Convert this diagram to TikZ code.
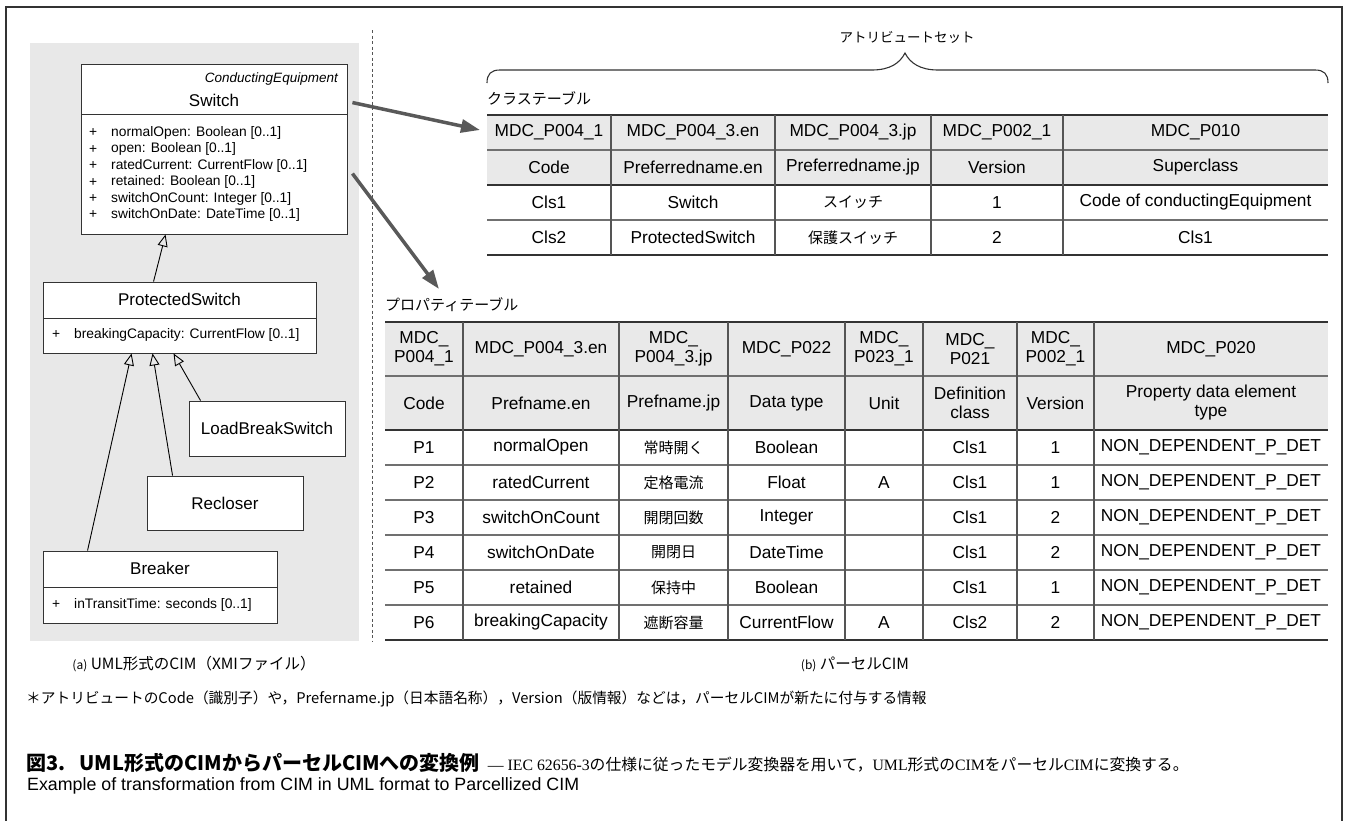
\documentclass[tikz,border=0pt]{standalone}
\usepackage{fontspec}
\setmainfont{Liberation Sans}
\newfontfamily\jp{Noto Sans CJK JP}
\newfontfamily\serifl{Liberation Serif}
\usetikzlibrary{arrows.meta,calc}
\definecolor{bggray}{HTML}{E8E8E8}
\definecolor{hdrgray}{HTML}{E9E9E9}
\definecolor{linedark}{HTML}{333333}
\definecolor{linemid}{HTML}{707070}
\definecolor{linev}{HTML}{555555}
\definecolor{arrowgray}{HTML}{595959}
\newcommand\jtxt[1]{{\jp\fontsize{15}{19}\selectfont #1}}
\begin{document}
\begin{tikzpicture}[x=1pt,y=-1pt,
  umlbox/.style={draw=linedark,line width=0.9pt,fill=white,inner sep=0pt},
  clsname/.style={font=\fontsize{17}{20}\selectfont,inner sep=0pt},
  attr/.style={font=\fontsize{13.8}{17}\selectfont,inner sep=0pt,anchor=west},
  inh/.style={draw=black,line width=0.9pt,-{Triangle[open,length=12pt,width=10pt]}},
  bigarrow/.style={draw=arrowgray,line width=3.5pt,-{Triangle[length=19pt,width=13pt]}},
  cell/.style={font=\fontsize{17.3}{19}\selectfont,inner sep=0pt,align=center},
  tlthick/.style={draw=linedark,line width=1.8pt},
  tlmid/.style={draw=linemid,line width=1.3pt},
  tlv/.style={draw=linev,line width=1.2pt},
  lbl/.style={font=\jp\fontsize{15}{18}\selectfont,inner sep=0pt,anchor=west}
]
\useasboundingbox (0,0) rectangle (1353,820);
% frame
\draw[linedark,line width=1.2pt] (6,822) -- (6,7) -- (1342,7) -- (1342,822);
% left panel background
\fill[bggray] (30,43) rectangle (359,641);
\draw[linev,line width=0.9pt,dash pattern=on 3pt off 2.5pt] (372,30) -- (372,641);

% ---- UML classes ----
\node[umlbox,minimum width=266pt,minimum height=170pt] (sw) at (214,149) {};
\draw[linedark,line width=0.9pt] (81,114) -- (347,114);
\node[font=\itshape\fontsize{13.5}{16}\selectfont,inner sep=0pt,anchor=east] (swst) at (338,79) {ConductingEquipment};
\node[clsname] (swn) at (214,100) {Switch};
\foreach \txt [count=\i] in {normalOpen: Boolean [0..1],open: Boolean [0..1],ratedCurrent: CurrentFlow [0..1],retained: Boolean [0..1],switchOnCount: Integer [0..1],switchOnDate: DateTime [0..1]}{
  \node[attr] (swp\i) at (89,{133+(\i-1)*16.4}) {+};
  \node[attr] (swa\i) at (111,{133+(\i-1)*16.4}) {\txt};
}

\node[umlbox,minimum width=273pt,minimum height=71pt] (ps) at (179.5,317.5) {};
\draw[linedark,line width=0.9pt] (43,318) -- (316,318);
\node[clsname] (psn) at (179.5,299) {ProtectedSwitch};
\node[attr] (psp) at (52,335) {+};
\node[attr] (psa) at (74,335) {breakingCapacity: CurrentFlow [0..1]};

\node[umlbox,minimum width=156pt,minimum height=55pt] (lbs) at (267,428.5) {};
\node[clsname] (lbsn) at (267,428.5) {LoadBreakSwitch};
\node[umlbox,minimum width=156pt,minimum height=54pt] (rc) at (225,503) {};
\node[clsname] (rcn) at (225,503) {Recloser};

\node[umlbox,minimum width=234pt,minimum height=72pt] (br) at (160,587) {};
\draw[linedark,line width=0.9pt] (43,587) -- (277,587);
\node[clsname] (brn) at (160,568) {Breaker};
\node[attr] (brp) at (52,605) {+};
\node[attr] (bra) at (74,605) {inTransitTime: seconds [0..1]};

% generalisations
\draw[inh] ($(ps.north west)+(111,0)$) -- ($(sw.south west)+(85,0)$);
\draw[inh] ($(br.north west)+(45,0)$) -- ($(ps.south west)+(89,0)$);
\draw[inh] ($(rc.north west)+(26,0)$) -- ($(ps.south west)+(110,0)$);
\draw[inh] ($(lbs.north west)+(12,0)$) -- ($(ps.south west)+(131,0)$);

% ---- attribute set brace ----
\node[font=\jp\fontsize{13.5}{16}\selectfont,inner sep=0pt] (attrset) at (907,37) {アトリビュートセット};
\draw[linedark,line width=1.1pt] (487,83) .. controls (487,74) and (491,70) .. (500,70) -- (872,70)
  .. controls (890,70) and (900,63) .. (905,53) .. controls (910,63) and (920,70) .. (938,70)
  -- (1315,70) .. controls (1324,70) and (1328,74) .. (1328,83);

% ---- class table ----
\node[lbl] (ctl) at (487,98) {クラステーブル};
\coordinate (ct) at (487,115);
\fill[hdrgray] (487,115) rectangle (1328,185);
\foreach \y in {150,220} \draw[tlmid] (487,\y) -- (1328,\y);
\foreach \y in {115,185,255} \draw[tlthick] (487,\y) -- (1328,\y);
\foreach \x in {611,775,931,1063} \draw[tlv] (\x,115) -- (\x,255);
\foreach \x/\txt [count=\i] in {549/MDC\_P004\_1,693/MDC\_P004\_3.en,853/MDC\_P004\_3.jp,997/MDC\_P002\_1,1195.5/MDC\_P010}
  \node[cell] (ca\i) at (\x,132.5) {\txt};
\foreach \x/\txt [count=\i] in {549/Code,693/Preferredname.en,853/Preferredname.jp,997/Version,1195.5/Superclass}
  \node[cell] (cb\i) at (\x,167.5) {\txt};
\foreach \x/\txt [count=\i] in {549/Cls1,693/Switch,853/\jtxt{スイッチ},997/1,1195.5/Code of conductingEquipment}
  \node[cell] (cc\i) at (\x,202.5) {\txt};
\foreach \x/\txt [count=\i] in {549/Cls2,693/ProtectedSwitch,853/\jtxt{保護スイッチ},997/2,1195.5/Cls1}
  \node[cell] (cd\i) at (\x,237.5) {\txt};

% ---- property table ----
\node[lbl] (ptl) at (385,305) {プロパティテーブル};
\coordinate (pt) at (385,322);
\fill[hdrgray] (385,322) rectangle (1328,430);
\foreach \y in {376,465,500,535,570,605} \draw[tlmid] (385,\y) -- (1328,\y);
\foreach \y in {322,430,640} \draw[tlthick] (385,\y) -- (1328,\y);
\foreach \x in {463,619,728,845,923,1017,1094} \draw[tlv] (\x,322) -- (\x,640);
\foreach \x/\txt [count=\i] in {424/MDC\_\\P004\_1,541/MDC\_P004\_3.en,673.5/MDC\_\\P004\_3.jp,786.5/MDC\_P022,884/MDC\_\\P023\_1,970/MDC\_\\P021,1055.5/MDC\_\\P002\_1,1211/MDC\_P020}
  \node[cell] (pa\i) at (\x,349) {\txt};
\foreach \x/\txt [count=\i] in {424/Code,541/Prefname.en,673.5/Prefname.jp,786.5/Data type,884/Unit,970/Definition\\class,1055.5/Version,1211/Property data element\\type}
  \node[cell] (pb\i) at (\x,403) {\txt};
\foreach \r/\y/\a/\b/\c/\d/\e/\f/\g in {
  1/447.5/P1/normalOpen/常時開く/Boolean//Cls1/1,
  2/482.5/P2/ratedCurrent/定格電流/Float/A/Cls1/1,
  3/517.5/P3/switchOnCount/開閉回数/Integer//Cls1/2,
  4/552.5/P4/switchOnDate/開閉日/DateTime//Cls1/2,
  5/587.5/P5/retained/保持中/Boolean//Cls1/1,
  6/622.5/P6/breakingCapacity/遮断容量/CurrentFlow/A/Cls2/2}{
  \node[cell] (p\r-1) at (424,\y) {\a};
  \node[cell] (p\r-2) at (541,\y) {\b};
  \node[cell] (p\r-3) at (673.5,\y) {\jtxt{\c}};
  \node[cell] (p\r-4) at (786.5,\y) {\d};
  \node[cell] (p\r-5) at (884,\y) {\e};
  \node[cell] (p\r-6) at (970,\y) {\f};
  \node[cell] (p\r-7) at (1055.5,\y) {\g};
  \node[cell] (p\r-8) at (1211,\y) {NON\_DEPENDENT\_P\_DET};
}

% ---- transformation arrows ----
\draw[bigarrow] ($(sw.north east)+(5,39)$) -- ($(ct)+(-7,15)$);
\draw[bigarrow] ($(sw.north east)+(5,110)$) -- ($(pt)+(54,-33)$);

% ---- captions ----
\node[font=\jp\fontsize{15.5}{18}\selectfont,inner sep=0pt] (capa) at (194,664) {{\fontsize{12}{12}\selectfont(a)} UML形式のCIM（XMIファイル）};
\node[font=\jp\fontsize{15.5}{18}\selectfont,inner sep=0pt] (capb) at (855,664) {{\fontsize{12}{12}\selectfont(b)} パーセルCIM};
\node[font=\jp\fontsize{14.7}{17}\selectfont,inner sep=0pt,anchor=west] (fn) at (26,699) {＊アトリビュートのCode（識別子）や，Prefername.jp（日本語名称），Version（版情報）などは，パーセルCIMが新たに付与する情報};
\node[inner sep=0pt,anchor=west] (ttl) at (26,763) {{\jp\bfseries\fontsize{20}{22}\selectfont 図3.\hspace{14pt}UML形式のCIMからパーセルCIMへの変換例}\hspace{8pt}{\fontsize{15.8}{20}\selectfont\serifl — IEC 62656-3{\jp の仕様に従ったモデル変換器を用いて，}UML{\jp 形式の}CIM{\jp をパーセル}CIM{\jp に変換する。}}};
\node[font=\fontsize{17.8}{20}\selectfont,inner sep=0pt,anchor=west] (eng) at (27,786) {Example of transformation from CIM in UML format to Parcellized CIM};
\end{tikzpicture}
\end{document}
